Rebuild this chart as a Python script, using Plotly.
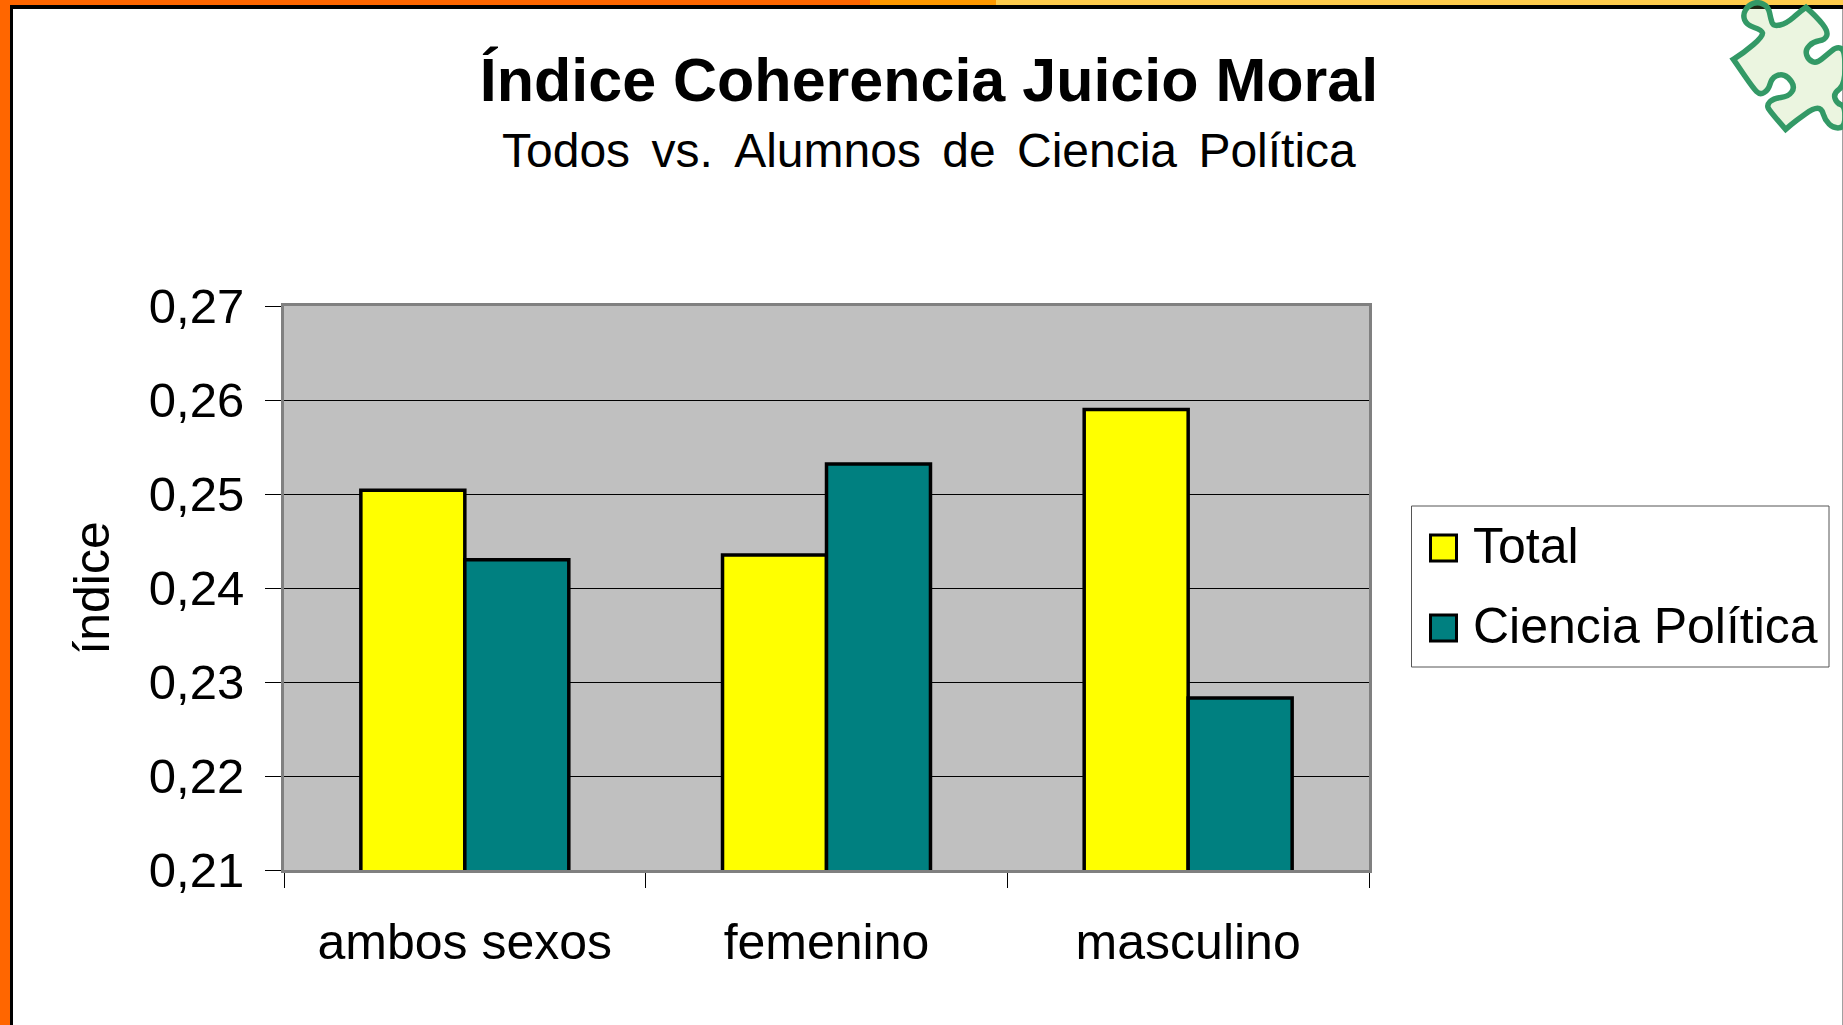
import plotly.graph_objects as go

categories = ["ambos sexos", "femenino", "masculino"]
total_values = [0.2504, 0.2435, 0.2590]
ciencia_values = [0.2430, 0.2532, 0.2283]
y_ticks = [0.21, 0.22, 0.23, 0.24, 0.25, 0.26, 0.27]

W, H = 1843, 1025
FONT = "Liberation Sans, Arial, sans-serif"
GREEN = "#339966"

def px(x):
    return x / W

def py(y):
    return 1 - y / H

def rect(x0, y0, x1, y1, fill, line=None, width=0, layer="above"):
    return dict(type="rect", xref="paper", yref="paper", layer=layer,
                x0=px(x0), x1=px(x1), y0=py(y0), y1=py(y1), fillcolor=fill,
                line=dict(color=line, width=width) if line else dict(width=0))

# Outline of the puzzle-piece decoration, in reference-page pixels
piece = [(400,178),(430,160),(490,108),(485,90),(440,75),(428,45),(445,15),(475,5),(505,20),(512,55),
         (520,80),(560,70),(600,35),(618,22),(650,50),(685,95),(675,120),(640,125),(615,150),(625,180),
         (650,190),(680,165),(710,140),(735,150),(735,255),(700,280),(710,310),(735,318),(735,382),(700,385),
         (675,360),(665,325),(640,325),(590,360),(557,388),(510,335),(500,315),(520,295),(565,290),(585,262),
         (565,230),(540,222),(515,235),(505,270),(480,285),(460,265),(405,185)]
pts = [(1600 + a / 3, b / 3) for a, b in piece]
sharp = {0, 13, 34}
def P(p):
    return f"{px(p[0]):.5f},{py(p[1]):.5f}"
d = "M" + P(pts[0])
n = len(pts)
for i in range(1, n):
    cur, nxt = pts[i], pts[(i + 1) % n]
    if i in sharp or i == n - 1:
        d += " L" + P(cur)
    else:
        mid = ((cur[0] + nxt[0]) / 2, (cur[1] + nxt[1]) / 2)
        d += " Q" + P(cur) + " " + P(mid)
d += " Z"

shapes = [
    rect(0, 0, 870, 5, "#FF6600", layer="below"),
    rect(870, 0, 996, 5, "#FF9900", layer="below"),
    rect(996, 0, W, 5, "#FFCC4D", layer="below"),
    rect(0, 0, 10, H, "#FF6600", layer="below"),
    rect(10, 5, W, 9, "#000000", layer="below"),
    rect(10, 5, 13, H, "#000000", layer="below"),
    rect(1842, 9, W, H, "#A0A0A0", layer="below"),
    rect(1411.5, 506, 1829, 667, "#FFFFFF", "#555555", 1, layer="below"),
    dict(type="path", xref="paper", yref="paper", path=d,
         fillcolor="rgba(153,204,102,0.2)", line=dict(color=GREEN, width=5.5)),
]

fig = go.Figure()
fig.add_bar(name="Total", x=categories, y=total_values, legendgroup="a",
            marker=dict(color="#FFFF00", line=dict(color="#000000", width=3.5)))
fig.add_bar(name="Ciencia Política", x=categories, y=ciencia_values, legendgroup="b",
            marker=dict(color="#008080", line=dict(color="#000000", width=3.5)))

fig.update_layout(
    width=W, height=H, autosize=False,
    margin=dict(l=0, r=0, t=0, b=0, autoexpand=False),
    paper_bgcolor="#FFFFFF", plot_bgcolor="#C0C0C0",
    font=dict(family=FONT, size=48, color="#000000"),
    separators=",.",
    barmode="group", bargap=0.425, bargroupgap=0,
    title=dict(text="<b>Índice Coherencia Juicio Moral</b>", font=dict(size=61, family=FONT),
               x=929 / W, xanchor="center", xref="paper", y=py(80), yanchor="middle", yref="container"),
    annotations=[dict(text="Todos  vs.  Alumnos  de  Ciencia  Política".replace("  ", " \u200a\u200a"),
                      xref="paper", yref="paper", x=929 / W, y=py(150), showarrow=False,
                      xanchor="center", yanchor="middle", font=dict(size=48, family=FONT))],
    xaxis=dict(domain=[284 / W, 1369 / W], type="category", tickson="boundaries", ticks="outside",
               ticklen=15, tickcolor="#000000", tickwidth=1, showgrid=False,
               tickfont=dict(size=50, family=FONT),
               ticklabelstandoff=26, showline=True, mirror=True, linecolor="#808080", linewidth=3),
    yaxis=dict(domain=[1 - 870 / H, 1 - 306 / H], range=[0.21, 0.27], tickvals=y_ticks, tickformat=".2f",
               ticks="outside", ticklen=16, tickcolor="#000000", tickwidth=1,
               tickfont=dict(size=49, family=FONT),
               showgrid=True, gridcolor="#000000", gridwidth=1, zeroline=False,
               ticklabelstandoff=11, showline=True, mirror=True, linecolor="#808080", linewidth=3,
               title=dict(text="índice", standoff=24, font=dict(size=50, family=FONT))),
    legend=dict(x=1414 / W, y=py(504), xanchor="left", yanchor="top", xref="paper", yref="paper",
                bgcolor="rgba(0,0,0,0)", borderwidth=0, traceorder="grouped", tracegroupgap=12,
                itemwidth=49, font=dict(size=50, family=FONT), itemclick=False, itemdoubleclick=False),
    shapes=shapes,
)

post = """
document.documentElement.style.margin='0';
document.body.style.margin='0';
document.body.style.overflow='hidden';
function bigSwatches(){
  document.querySelectorAll('.legend .legendpoints path').forEach(function(p){
    p.setAttribute('d','M13,18H-13V-8H13Z');
    p.style.strokeWidth='3px';
  });
}
bigSwatches();
var gd=document.getElementsByClassName('plotly-graph-div')[0];
if(gd&&gd.on){gd.on('plotly_afterplot',bigSwatches);}
setTimeout(bigSwatches,50);
"""
fig.write_html("out.html", post_script=post, config=dict(displayModeBar=False, responsive=False))
